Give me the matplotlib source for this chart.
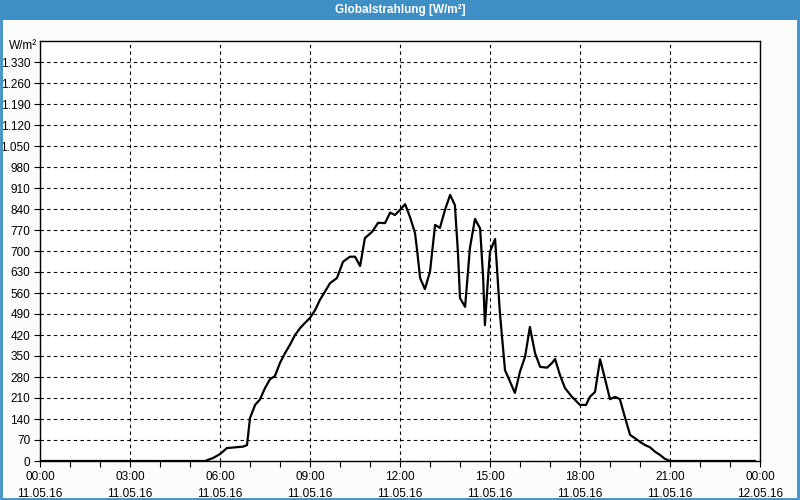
"""Globalstrahlung 11.05.16 - daily curve of solar radiation."""
import matplotlib.pyplot as plt
from matplotlib.patches import Rectangle
from matplotlib.ticker import FuncFormatter, MultipleLocator

plt.rcParams["font.family"] = ["Liberation Sans", "DejaVu Sans"]

# hours since 00:00 and radiation in W/m2
hours = [0, 5.5, 5.77, 6.0, 6.23, 6.77, 6.9, 7.0, 7.17, 7.33, 7.5, 7.67, 7.83,
         8.0, 8.17, 8.33, 8.5, 8.67, 8.83, 9.0, 9.17, 9.33, 9.67, 9.9, 10.1,
         10.33, 10.5, 10.67, 10.83, 11.07, 11.27, 11.5, 11.67, 11.83, 12.0,
         12.17, 12.33, 12.5, 12.57, 12.67, 12.83, 13.0, 13.17, 13.33, 13.5,
         13.67, 13.83, 13.93, 14.0, 14.17, 14.33, 14.5, 14.67, 14.77, 14.83,
         14.93, 15.0, 15.17, 15.33, 15.5, 15.83, 16.0, 16.17, 16.33, 16.5,
         16.67, 16.9, 17.07, 17.17, 17.33, 17.5, 17.73, 18.0, 18.2, 18.33,
         18.5, 18.67, 18.83, 19.0, 19.17, 19.33, 19.5, 19.67, 19.83, 20.0,
         20.17, 20.33, 20.5, 20.67, 20.83, 21.0, 23.83]
radiation = [0, 0, 10, 23, 43, 48, 53, 143, 187, 205, 243, 273, 283,
             327, 360, 387, 420, 443, 460, 477, 503, 537, 593, 610, 664,
             681, 681, 650, 743, 764, 794, 793, 828, 820, 837,
             856, 814, 760, 703, 610, 573, 631, 787, 777, 837,
             887, 853, 698, 543, 514, 710, 807, 775, 614, 453,
             603, 698, 740, 493, 303, 227, 298, 348, 447, 360,
             314, 311, 327, 340, 287, 243, 214, 187, 187, 214,
             230, 339, 275, 206, 214, 206, 145, 87, 76, 64,
             53, 46, 31, 20, 7, 0, 0]

x_ticks = [0, 3, 6, 9, 12, 15, 18, 21, 24]
x_labels = ["00:00\n11.05.16", "03:00\n11.05.16", "06:00\n11.05.16",
            "09:00\n11.05.16", "12:00\n11.05.16", "15:00\n11.05.16",
            "18:00\n11.05.16", "21:00\n11.05.16", "00:00\n12.05.16"]

blue = "#3d8fc6"
fig = plt.figure(figsize=(8, 5), dpi=100, facecolor="#f9fcf9")
fig.patches.append(Rectangle((0, 0.96), 1, 0.04, transform=fig.transFigure,
                             facecolor=blue, edgecolor="none"))
fig.patches.append(Rectangle((0.001, 0.002), 0.997, 0.996, transform=fig.transFigure,
                             facecolor="none", edgecolor=blue, lw=2))
fig.text(0.5, 0.979, "Globalstrahlung [W/m²]", color="white", weight="bold",
         fontsize=8.5, ha="center", va="center")

ax = fig.add_axes([0.05, 0.078, 0.90, 0.84])
ax.plot(hours, radiation, color="black", lw=1.6)

ax.set_xlim(0, 24)
ax.set_ylim(0, 1400)
ax.set_xticks(x_ticks)
ax.set_xticklabels(x_labels, fontsize=8.5, linespacing=1.6)
ax.xaxis.set_minor_locator(MultipleLocator(1))
ax.set_yticks(range(0, 1400, 70))
ax.yaxis.set_major_formatter(FuncFormatter(lambda v, p: f"{v:,.0f}".replace(",", ".")))
ax.tick_params(labelsize=8.5, length=4, width=0.8, pad=3, colors="black")
ax.tick_params(which="minor", length=4, width=0.8)
ax.grid(True, color="black", linestyle=(0, (3, 3)), lw=0.8)
for s in ax.spines.values():
    s.set_linewidth(1)
fig.text(0.046, 1 - 46 / 500, "W/m²", fontsize=8.5, ha="right", va="center")

plt.savefig("out.png", dpi=100, facecolor=fig.get_facecolor())
